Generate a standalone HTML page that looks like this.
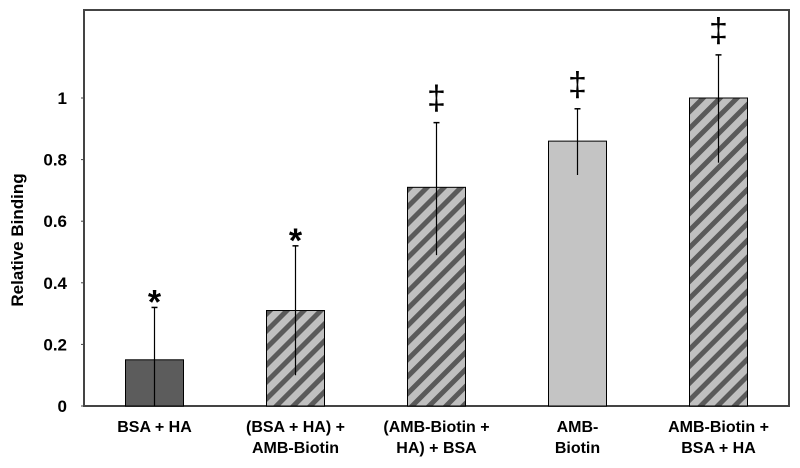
<!DOCTYPE html>
<html><head><meta charset="utf-8"><style>
body{margin:0;background:#fff;}
svg{display:block;font-family:"Liberation Sans",Arial,sans-serif;}
</style></head><body>
<svg width="800" height="468" viewBox="0 0 800 468">
<defs>
<pattern id="hatch" patternUnits="userSpaceOnUse" width="12" height="12" patternTransform="rotate(45)">
<rect width="12" height="12" fill="#c0c0c0"/>
<rect width="5" height="12" fill="#5a5a5a"/>
</pattern>
</defs>
<g id="chart"></g>
</svg>
<script>
const categories=[["BSA + HA"],["(BSA + HA) +","AMB-Biotin"],["(AMB-Biotin +","HA) + BSA"],["AMB-","Biotin"],["AMB-Biotin +","BSA + HA"]];
const values=[0.15,0.31,0.71,0.86,1.0];
const errHigh=[0.32,0.52,0.92,0.965,1.14];
const errLow=[0.0,0.1,0.49,0.75,0.79];
const fills=["dark","hatch","hatch","light","hatch"];
const marks=["*","*","‡","‡","‡"];
const yTicks=[0,0.2,0.4,0.6,0.8,1];
const tickLabels=["0","0.2","0.4","0.6","0.8","1"];

const NS="http://www.w3.org/2000/svg";
const g=document.getElementById('chart');
const X0=84,X1=789,Y0=406,YTOP=10;
const y=v=>Y0-v*308;
const band=(X1-X0)/categories.length;
const cx=i=>X0+band*(i+0.5);
function el(t,a,p){const e=document.createElementNS(NS,t);for(const k in a)e.setAttribute(k,a[k]);(p||g).appendChild(e);return e;}

let frame=el('rect',{x:X0,y:YTOP,width:X1-X0,height:Y0-YTOP,fill:'none',stroke:'#444','stroke-width':2});



yTicks.forEach((t,i)=>{
  const tk=el('line',{x1:X0-3,x2:X0,y1:y(t),y2:y(t),stroke:'#444'});
  
  
  const tl=el('text',{x:X0-17,y:y(t)+6,'text-anchor':'end','font-size':17,'font-weight':'bold'});
  tl.textContent=tickLabels[i];
  
  
});
const yt=el('text',{x:23,y:240,'text-anchor':'middle','font-size':17,'font-weight':'bold',transform:'rotate(-90 23 240)'});
yt.textContent='Relative Binding';



const W=58;
values.forEach((v,i)=>{
  const c=cx(i);
  const f=fills[i]==='dark'?'#5c5c5c':fills[i]==='light'?'#c4c4c4':'url(#hatch)';
  const r=el('rect',{x:c-W/2,y:y(v),width:W,height:Y0-y(v),fill:f,stroke:'#000','stroke-width':1});
  
  
  const e=el('line',{x1:c,x2:c,y1:y(errHigh[i]),y2:y(errLow[i]),stroke:'#000','stroke-width':1.2});
  
  
  const cap=el('line',{x1:c-3,x2:c+3,y1:y(errHigh[i]),y2:y(errHigh[i]),stroke:'#000','stroke-width':1.5});
  
  
  const star=marks[i]==='*';
  const m=el('text',{x:c,y:y(errHigh[i])-(star?-6:13),'text-anchor':'middle','font-size':34,'font-weight':star?'bold':'normal'});
  m.textContent=marks[i];
  
  
  categories[i].forEach((ln,j)=>{
    const t=el('text',{x:c,y:432+j*21,'text-anchor':'middle','font-size':16,'font-weight':'bold'});
    t.textContent=ln;
    
    
  });
});
</script>
</body></html>
